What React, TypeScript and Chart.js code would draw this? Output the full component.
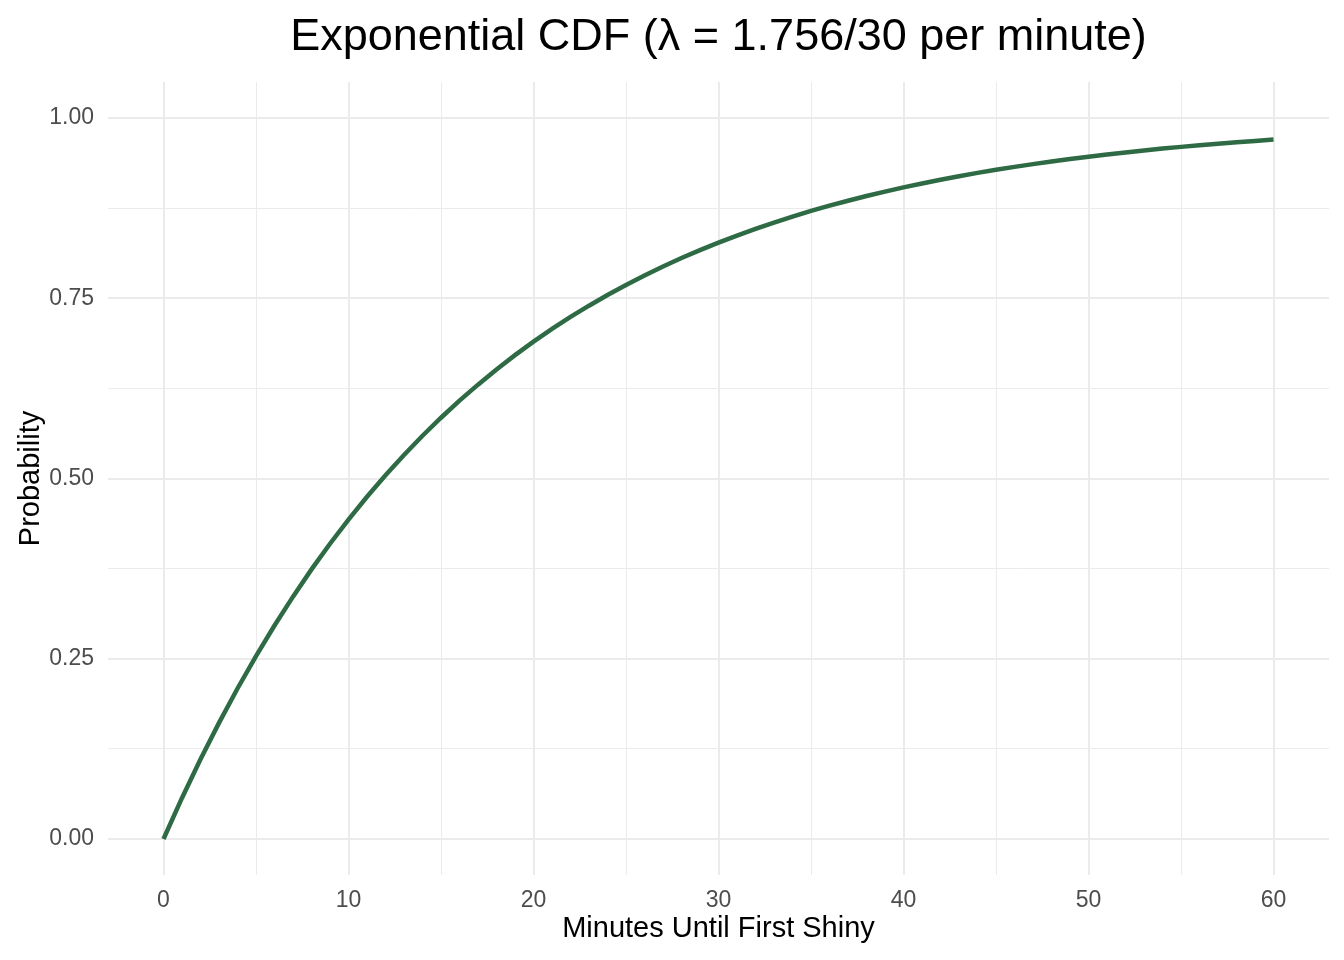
import React, { useEffect, useRef } from "react";
import { Chart, registerables } from "chart.js";

Chart.register(...registerables);

const TITLE = "Exponential CDF (\u03bb = 1.756/30 per minute)";
const X_LABEL = "Minutes Until First Shiny";
const Y_LABEL = "Probability";

const minutes = [
  0, 1, 2, 3, 4, 5, 6, 7, 8, 9, 10, 11, 12, 13, 14, 15, 16, 17, 18, 19, 20,
  21, 22, 23, 24, 25, 26, 27, 28, 29, 30, 31, 32, 33, 34, 35, 36, 37, 38, 39, 40,
  41, 42, 43, 44, 45, 46, 47, 48, 49, 50, 51, 52, 53, 54, 55, 56, 57, 58, 59, 60,
];
const probability = [
  0.0, 0.0569, 0.1105, 0.161, 0.2087, 0.2537, 0.2961, 0.3361, 0.3739, 0.4095, 0.443,
  0.4747, 0.5046, 0.5327, 0.5593, 0.5843, 0.608, 0.6302, 0.6513, 0.6711, 0.6898,
  0.7074, 0.7241, 0.7397, 0.7545, 0.7685, 0.7816, 0.7941, 0.8058, 0.8168, 0.8272,
  0.837, 0.8463, 0.855, 0.8633, 0.8711, 0.8784, 0.8853, 0.8918, 0.898, 0.9038,
  0.9092, 0.9144, 0.9193, 0.9239, 0.9282, 0.9323, 0.9361, 0.9397, 0.9432, 0.9464,
  0.9494, 0.9523, 0.955, 0.9576, 0.96, 0.9623, 0.9644, 0.9664, 0.9683, 0.9701,
];

const xMajorTicks = [0, 10, 20, 30, 40, 50, 60];
const xMinorTicks = [5, 15, 25, 35, 45, 55];
const yMajorTicks = [0, 0.25, 0.5, 0.75, 1.0];
const yMinorTicks = [0.125, 0.375, 0.625, 0.875];

const FONT = '"Liberation Sans", Arial, Helvetica, sans-serif';
const LINE_COLOR = "#2E6B45";
const GRID_COLOR = "#EBEBEB";
const TICK_COLOR = "#4D4D4D";

export default function App() {
  const canvasRef = useRef<HTMLCanvasElement | null>(null);

  useEffect(() => {
    const canvas = canvasRef.current;
    if (!canvas) return;

    const titlePlugin = {
      id: "centeredTitle",
      afterDraw(chart: any) {
        const { ctx, chartArea } = chart;
        ctx.save();
        ctx.font = `45px ${FONT}`;
        ctx.fillStyle = "#000000";
        ctx.textAlign = "center";
        ctx.textBaseline = "middle";
        ctx.fillText(TITLE, (chartArea.left + chartArea.right) / 2, 38);
        ctx.restore();
      },
    };

    const isMajorX = (v: number) => xMajorTicks.includes(v);
    const isMajorY = (v: number) => yMajorTicks.some((t) => Math.abs(t - v) < 1e-9);

    const chart = new Chart(canvas, {
      type: "line",
      data: {
        datasets: [
          {
            data: minutes.map((m, i) => ({ x: m, y: probability[i] })),
            borderColor: LINE_COLOR,
            borderWidth: 4.5,
            pointRadius: 0,
            tension: 0,
            fill: false,
            borderCapStyle: "butt",
          },
        ],
      },
      plugins: [titlePlugin],
      options: {
        responsive: false,
        animation: false,
        layout: { padding: { top: 82, right: 15, left: 0, bottom: 0 } },
        plugins: {
          legend: { display: false },
          title: { display: false },
          tooltip: { enabled: false },
        },
        scales: {
          x: {
            type: "linear",
            min: -3,
            max: 63,
            afterBuildTicks: (scale: any) => {
              scale.ticks = [...xMajorTicks, ...xMinorTicks]
                .sort((a, b) => a - b)
                .map((v) => ({ value: v }));
            },
            afterFit: (scale: any) => {
              scale.height = 85;
            },
            grid: {
              color: GRID_COLOR,
              lineWidth: (ctx: any) => (isMajorX(ctx.tick.value) ? 2 : 1),
              drawTicks: false,
            },
            border: { display: false },
            ticks: {
              autoSkip: false,
              maxRotation: 0,
              padding: 12,
              color: TICK_COLOR,
              font: { family: FONT, size: 23 },
              callback: (v: any) => (isMajorX(Number(v)) ? String(v) : ""),
            },
            title: {
              display: true,
              text: X_LABEL,
              color: "#000000",
              font: { family: FONT, size: 29 },
              padding: { top: 0, bottom: 14 },
            },
          },
          y: {
            type: "linear",
            min: -0.05,
            max: 1.05,
            afterBuildTicks: (scale: any) => {
              scale.ticks = [...yMajorTicks, ...yMinorTicks]
                .sort((a, b) => a - b)
                .map((v) => ({ value: v }));
            },
            afterFit: (scale: any) => {
              scale.width = 108;
            },
            grid: {
              color: GRID_COLOR,
              lineWidth: (ctx: any) => (isMajorY(ctx.tick.value) ? 2 : 1),
              drawTicks: false,
            },
            border: { display: false },
            ticks: {
              autoSkip: false,
              padding: 14,
              color: TICK_COLOR,
              font: { family: FONT, size: 23 },
              callback: (v: any) => (isMajorY(Number(v)) ? Number(v).toFixed(2) : ""),
            },
            title: {
              display: true,
              text: Y_LABEL,
              color: "#000000",
              font: { family: FONT, size: 29 },
              padding: { top: 14, bottom: 0 },
            },
          },
        },
      },
    } as any);

    return () => {
      chart.destroy();
    };
  }, []);

  return (
    <div
      style={{
        position: "fixed",
        left: 0,
        top: 0,
        width: 1344,
        height: 960,
        background: "#ffffff",
      }}
    >
      <canvas
        ref={canvasRef}
        width={1344}
        height={960}
        style={{ display: "block", width: 1344, height: 960 }}
      />
    </div>
  );
}
